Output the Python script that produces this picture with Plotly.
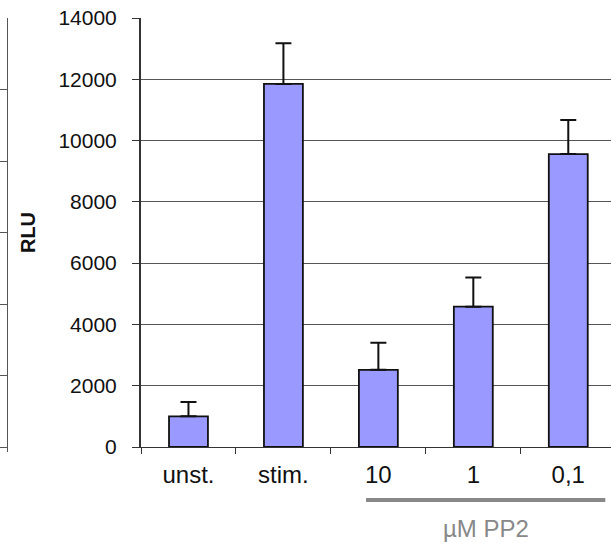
import plotly.graph_objects as go

categories = ["unst.", "stim.", "10", "1", "0,1"]
values = [1000, 11850, 2520, 4580, 9560]
errors = [470, 1330, 880, 950, 1110]
y_ticks = [0, 2000, 4000, 6000, 8000, 10000, 12000, 14000]
y_tick_labels = ["0", "2000", "4000", "6000", "8000", "10000", "12000", "14000"]
group_label = "µM PP2"

FONT = "Liberation Sans, Arial, sans-serif"

fig = go.Figure()
fig.add_trace(go.Bar(
    x=categories, y=values,
    width=0.41,
    marker=dict(color="#9999FF", line=dict(color="#111111", width=1.8)),
    error_y=dict(type="data", array=errors, arrayminus=[0]*len(errors),
                 symmetric=False, color="#111111", thickness=2, width=8),
    showlegend=False,
))

# remnant of a neighbouring chart at the left edge
fig.add_trace(go.Scatter(x=[0.5], y=[0], xaxis="x2", yaxis="y2",
                         mode="markers", marker=dict(opacity=0),
                         showlegend=False, hoverinfo="skip"))

fig.update_layout(
    width=611, height=542,
    margin=dict(l=0, r=0, t=18, b=95),
    paper_bgcolor="white", plot_bgcolor="white",
    font=dict(family=FONT, color="#111111"),
    xaxis=dict(
        domain=[141/611, 1],
        range=[-0.5, 4.45],
        tickson="boundaries",
        ticks="outside", ticklen=6, tickcolor="#333333", tickwidth=1,
        showline=True, linecolor="#333333", linewidth=1,
        showgrid=False,
        ticklabelstandoff=6,
        tickfont=dict(size=24, color="#111111"),
    ),
    yaxis=dict(
        range=[0, 14000],
        tickvals=y_ticks, ticktext=y_tick_labels,
        ticks="outside", ticklen=7, tickcolor="#333333",
        ticklabelstandoff=11,
        showline=True, linecolor="#333333", linewidth=2,
        showgrid=True, gridcolor="#555555", gridwidth=1,
        zeroline=False,
        tickfont=dict(size=21, color="#111111"),
        title=dict(text="<b>RLU</b>", font=dict(size=20, color="#111111"), standoff=17),
    ),
    xaxis2=dict(domain=[0, 7/611], range=[0, 1], anchor="y2",
                showticklabels=False, showgrid=False, zeroline=False,
                showline=True, linecolor="#555555",
                tickvals=[1], ticks="outside", ticklen=4, tickcolor="#555555"),
    yaxis2=dict(domain=[0, 1], range=[0, 6], anchor="x2", side="right",
                dtick=1, showticklabels=False, showgrid=True,
                gridcolor="#555555", gridwidth=1, zeroline=False,
                showline=True, linecolor="#555555", linewidth=1),
)

fig.add_shape(type="line", xref="x", yref="paper",
              x0=1.87, x1=4.39, y0=-0.1235, y1=-0.1235,
              line=dict(color="#888888", width=4))
fig.add_annotation(text=group_label, xref="x", yref="paper",
                   x=3.13, y=-0.226, showarrow=False,
                   font=dict(size=24, color="#888888", family=FONT))

fig.write_html("out.html")
